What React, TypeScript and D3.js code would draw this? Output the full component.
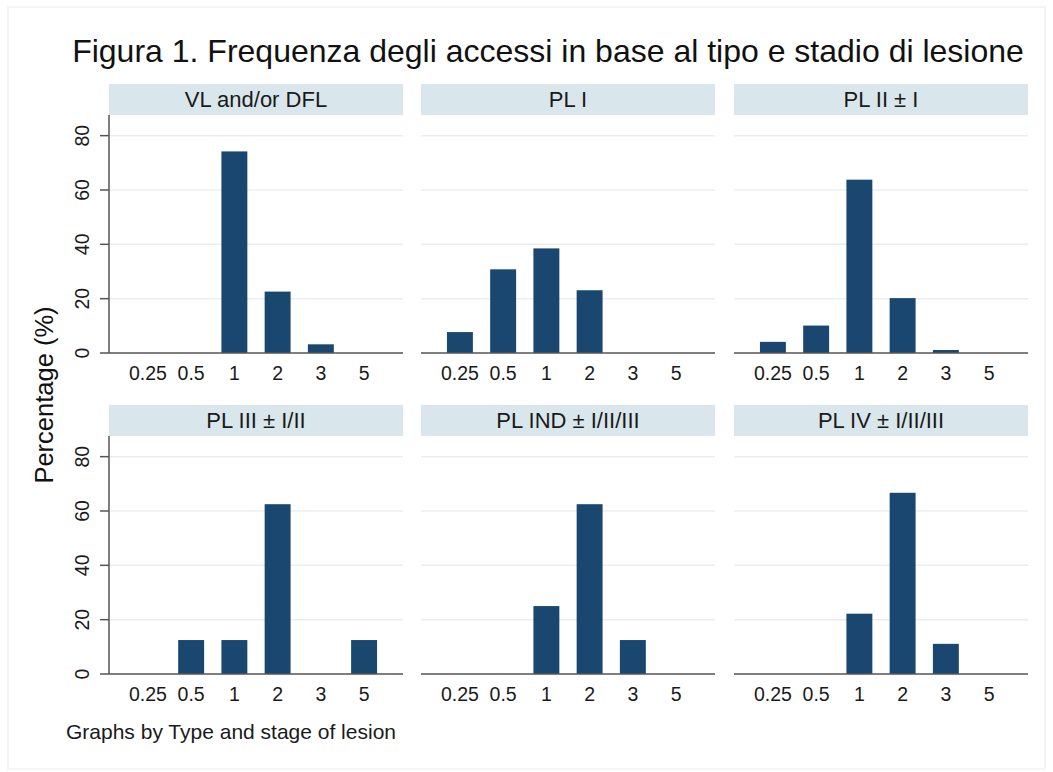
import React from "react";
import * as d3 from "d3";

// Lesion type / stage groups (one panel each), in display order
const panels = [
  "VL and/or DFL",
  "PL I",
  "PL II ± I",
  "PL III ± I/II",
  "PL IND ± I/II/III",
  "PL IV ± I/II/III",
];

// Access frequency categories on the x axis
const categories = ["0.25", "0.5", "1", "2", "3", "5"];

// Percentage of accesses per category, one array per panel
const vlDfl = [0, 0, 74.2, 22.6, 3.2, 0];
const pl1 = [7.7, 30.8, 38.5, 23.1, 0, 0];
const pl2 = [4.1, 10.1, 63.8, 20.2, 1.1, 0];
const pl3 = [0, 12.5, 12.5, 62.5, 0, 12.5];
const plInd = [0, 0, 25, 62.5, 12.5, 0];
const pl4 = [0, 0, 22.2, 66.7, 11.1, 0];

const seriesByPanel = [vlDfl, pl1, pl2, pl3, plInd, pl4];

const yTicks = [0, 20, 40, 60, 80];

const W = 1053;
const H = 772;
const colLefts = [109, 421, 734];
const panelW = 294;
const rowTops = [84, 405];
const headerH = 31;
const plotH = 238;
const yMax = 87.6;
const barColor = "#1a476f";
const font = "'Liberation Sans', Arial, sans-serif";

function Panel({ idx }: { idx: number }) {
  const col = idx % 3;
  const row = Math.floor(idx / 3);
  const left = colLefts[col];
  const top = rowTops[row];
  const plotTop = top + headerH;
  const plotBottom = plotTop + plotH;

  const x = d3
    .scalePoint<string>()
    .domain(categories)
    .range([left, left + panelW])
    .padding(0.9);
  const y = d3.scaleLinear().domain([0, yMax]).range([plotBottom, plotTop]);
  const barW = x.step() * 0.6;
  const values = seriesByPanel[idx];

  return (
    <g>
      <rect x={left} y={top} width={panelW} height={headerH} fill="#d9e6eb" />
      <text
        x={left + panelW / 2}
        y={top + 23}
        textAnchor="middle"
        fontSize={22}
        fill="#1a1a1a"
        fontFamily={font}
      >
        {panels[idx]}
      </text>
      {yTicks
        .filter((t) => t > 0)
        .map((t) => (
          <line
            key={t}
            x1={left}
            x2={left + panelW}
            y1={y(t)}
            y2={y(t)}
            stroke="#ebeef0"
            strokeWidth={1.5}
          />
        ))}
      {values.map((v, i) =>
        v > 0 ? (
          <rect
            key={i}
            x={(x(categories[i]) as number) - barW / 2}
            y={y(v)}
            width={barW}
            height={y(0) - y(v)}
            fill={barColor}
          />
        ) : null
      )}
      <line
        x1={left}
        x2={left + panelW}
        y1={y(0)}
        y2={y(0)}
        stroke="#555"
        strokeWidth={1.5}
      />
      {categories.map((c) => (
        <text
          key={c}
          x={x(c)}
          y={y(0) + 27}
          textAnchor="middle"
          fontSize={19.5}
          fill="#1a1a1a"
          fontFamily={font}
        >
          {c}
        </text>
      ))}
      {col === 0 && (
        <g>
          <line
            x1={left}
            x2={left}
            y1={plotTop}
            y2={y(0)}
            stroke="#555"
            strokeWidth={1.5}
          />
          {yTicks.map((t) => (
            <g key={t}>
              <line
                x1={left - 9}
                x2={left}
                y1={y(t)}
                y2={y(t)}
                stroke="#555"
                strokeWidth={1.5}
              />
              <text
                transform={`translate(${left - 27},${y(t)}) rotate(-90)`}
                textAnchor="middle"
                dy="0.36em"
                fontSize={19.5}
                fill="#1a1a1a"
                fontFamily={font}
              >
                {t}
              </text>
            </g>
          ))}
        </g>
      )}
    </g>
  );
}

export default function App() {
  return (
    <div style={{ position: "absolute", left: 0, top: 0 }}>
      <svg width={W} height={H} style={{ display: "block" }}>
        <rect x={0} y={0} width={W} height={H} fill="#ffffff" />
        <rect
          x={8}
          y={7}
          width={W - 16}
          height={H - 10}
          fill="none"
          stroke="#eef1f3"
          strokeWidth={1.5}
        />
        <text
          x={548}
          y={62}
          textAnchor="middle"
          fontSize={32}
          fill="#111"
          fontFamily={font}
        >
          Figura 1. Frequenza degli accessi in base al tipo e stadio di lesione
        </text>
        <text
          transform="translate(53,395) rotate(-90)"
          textAnchor="middle"
          fontSize={25.5}
          fill="#111"
          fontFamily={font}
        >
          Percentage (%)
        </text>
        {panels.map((_, i) => (
          <Panel key={i} idx={i} />
        ))}
        <text x={66} y={739} fontSize={21} fill="#1a1a1a" fontFamily={font}>
          Graphs by Type and stage of lesion
        </text>
      </svg>
    </div>
  );
}
